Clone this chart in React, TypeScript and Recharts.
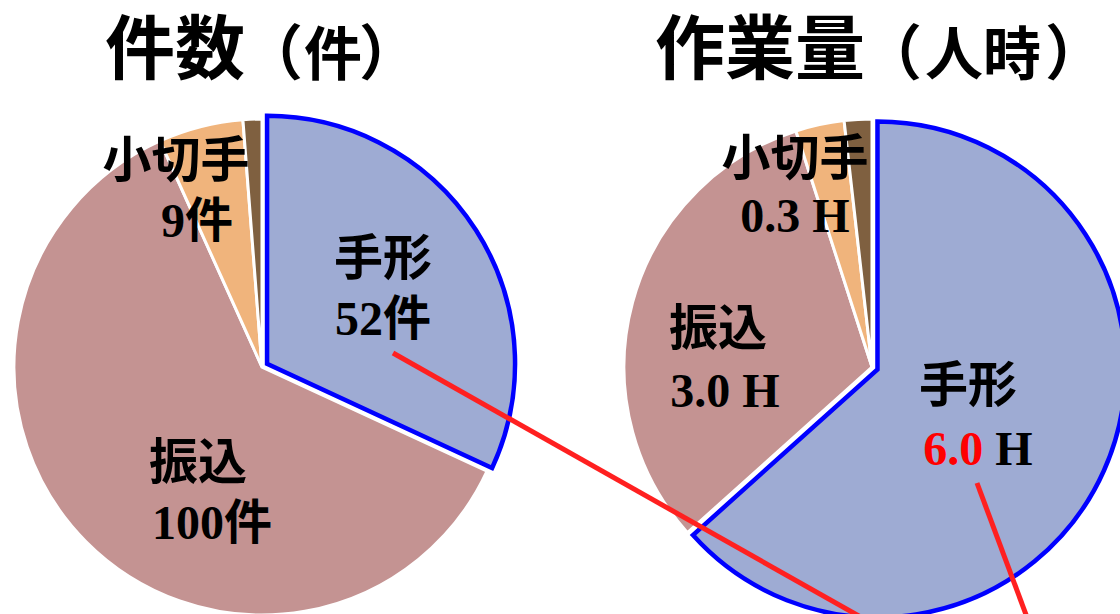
import { PieChart, Pie, Cell } from "recharts";

const categories = ["手形", "振込", "小切手", "その他"];
const countValues = [52, 100, 9, 2];
const hourValues = [6.0, 3.0, 0.3, 0.17];
const countLabels = ["52件", "100件", "9件", ""];
const hourLabels = ["6.0", "3.0", "0.3", ""];

const COLORS = ["#9EABD3", "#C49392", "#F0B47C", "#7F6040"];
const FONT = '"Liberation Serif", "Noto Sans CJK JP", serif';

const countData = categories.map((name, i) => ({ name, value: countValues[i], text: countLabels[i] }));
const hourData = categories.map((name, i) => ({ name, value: hourValues[i], text: hourLabels[i] }));

// label offsets from pie center (name line, value line)
const countPos = [
  { x: 121, y1: -109, y2: -49 },
  { x: -64, y1: 95, y2: 155, x2: -50 },
  { x: -86, y1: -207, y2: -147, x2: -65 },
  null,
];
const hourPos = [
  { x: 96, y1: 18, y2: 81, x2: 106 },
  { x: -154, y1: -39, y2: 23, x2: -147 },
  { x: -77, y1: -209, y2: -152 },
  null,
];

const R = 248;

function makeLabel(pos: any[], hours: boolean) {
  return (props: any) => {
    const { cx, cy, index, payload } = props;
    const p = pos[index];
    if (!p) return null;
    const name = categories[index];
    const text = payload?.text ?? (payload?.payload?.text as string);
    const x2 = p.x2 ?? p.x;
    return (
      <g>
        <text x={cx + p.x} y={cy + p.y1} textAnchor="middle" dominantBaseline="central"
          fontFamily={FONT} fontWeight="bold" fontSize={49} fill="#000">{name}</text>
        <text x={cx + x2} y={cy + p.y2} textAnchor="middle" dominantBaseline="central"
          fontFamily={FONT} fontWeight="bold" fontSize={48} fill="#000">
          {hours ? (
            <>
              <tspan fill={index === 0 ? "#FF0000" : "#000"}>{text}</tspan>
              <tspan> H</tspan>
            </>
          ) : text}
        </text>
      </g>
    );
  };
}

function explodeOffset(values: number[], idx: number, dist: number) {
  const total = values.reduce((a, b) => a + b, 0);
  let start = 0;
  for (let i = 0; i < idx; i++) start += values[i];
  const mid = ((start + values[idx] / 2) / total) * 2 * Math.PI;
  return { dx: Math.sin(mid) * dist, dy: -Math.cos(mid) * dist };
}

function Title({ x, main, unit, open, mid, close }: { x: number; main: string; unit: string; open: number; mid: number; close: number }) {
  return (
    <g fontFamily={FONT} fontWeight="bold">
      <text x={x} y={50} dominantBaseline="central" fontSize={70}>{main}</text>
      <text x={open} y={55} textAnchor="end" dominantBaseline="central" fontSize={60}>（</text>
      <text x={mid} y={55} textAnchor="middle" dominantBaseline="central" fontSize={58}>{unit}</text>
      <text x={close} y={55} textAnchor="start" dominantBaseline="central" fontSize={60}>）</text>
    </g>
  );
}

export default function App() {
  const lc = { x: 262, y: 367 };
  const rc = { x: 872, y: 367 };
  const lo = explodeOffset(countValues, 0, 6);
  const ro = explodeOffset(hourValues, 0, 6);
  return (
    <div style={{ position: "absolute", left: 0, top: 0, width: 1120, height: 614, background: "#fff", overflow: "hidden" }}>
      <PieChart width={1120} height={614} margin={{ top: 0, right: 0, bottom: 0, left: 0 }}>
        {/* exploded 手形 slices */}
        <Pie data={countData} dataKey="value" cx={lc.x + lo.dx} cy={lc.y + lo.dy} outerRadius={R}
          startAngle={90} endAngle={-270} isAnimationActive={false} labelLine={false}>
          {countData.map((d, i) => (
            <Cell key={d.name} fill={i === 0 ? COLORS[0] : "none"} stroke={i === 0 ? "#0000FF" : "none"} strokeWidth={4.5} />
          ))}
        </Pie>
        <Pie data={hourData} dataKey="value" cx={rc.x + ro.dx} cy={rc.y + ro.dy} outerRadius={R}
          startAngle={90} endAngle={-270} isAnimationActive={false} labelLine={false}>
          {hourData.map((d, i) => (
            <Cell key={d.name} fill={i === 0 ? COLORS[0] : "none"} stroke={i === 0 ? "#0000FF" : "none"} strokeWidth={4.5} />
          ))}
        </Pie>
        {/* remaining slices */}
        <Pie data={countData} dataKey="value" cx={lc.x} cy={lc.y} outerRadius={R}
          startAngle={90} endAngle={-270} isAnimationActive={false} labelLine={false}
          label={makeLabel(countPos, false)}>
          {countData.map((d, i) => (
            <Cell key={d.name} fill={i === 0 ? "none" : COLORS[i]} stroke={i === 0 ? "none" : "#fff"} strokeWidth={3} />
          ))}
        </Pie>
        <Pie data={hourData} dataKey="value" cx={rc.x} cy={rc.y} outerRadius={R}
          startAngle={90} endAngle={-270} isAnimationActive={false} labelLine={false}
          label={makeLabel(hourPos, true)}>
          {hourData.map((d, i) => (
            <Cell key={d.name} fill={i === 0 ? "none" : COLORS[i]} stroke={i === 0 ? "none" : "#fff"} strokeWidth={3} />
          ))}
        </Pie>
      </PieChart>
      <svg width={1120} height={614} style={{ position: "absolute", left: 0, top: 0, pointerEvents: "none" }}>
        <Title x={105} main="件数" unit="件" open={303} mid={333} close={359} />
        <Title x={655} main="作業量" unit="人時" open={922} mid={983} close={1045} />
        <line x1={393} y1={353} x2={866} y2={620} stroke="#FF2020" strokeWidth={5} />
        <line x1={977} y1={483} x2={1028} y2={620} stroke="#FF2020" strokeWidth={5} />
      </svg>
    </div>
  );
}
